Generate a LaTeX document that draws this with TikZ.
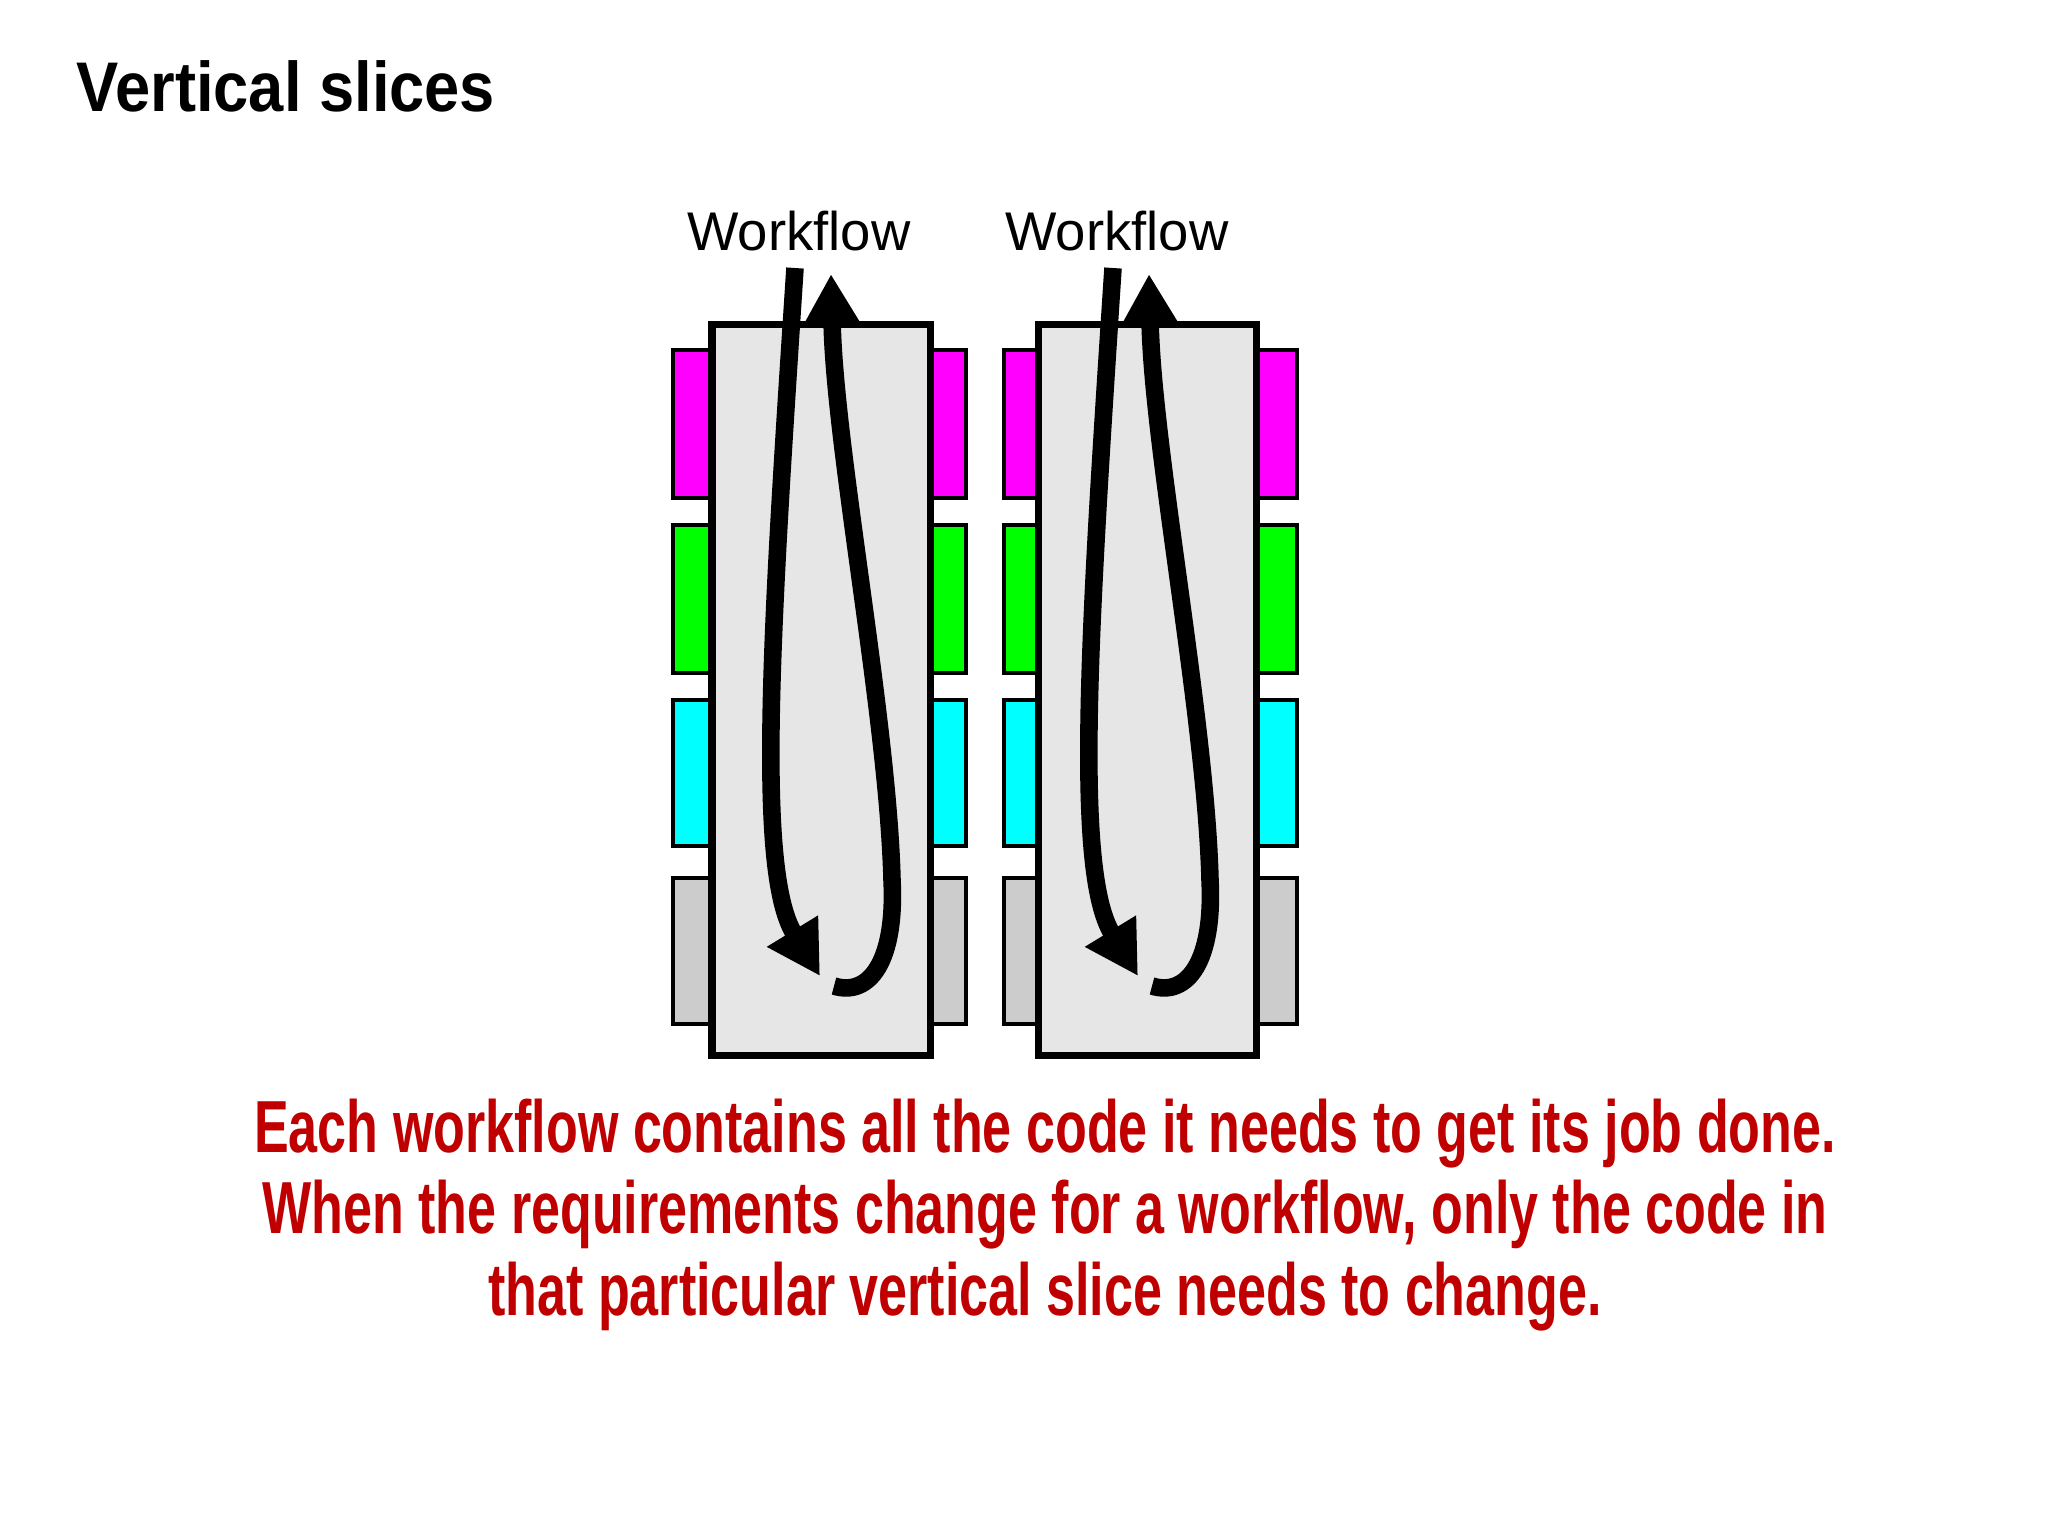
\documentclass[tikz,border=0pt]{standalone}
\usepackage{fontspec}
\setmainfont{Liberation Sans}
\usetikzlibrary{arrows.meta}
\definecolor{slicegray}{RGB}{230,230,230}
\definecolor{tabmagenta}{RGB}{255,0,255}
\definecolor{tabgreen}{RGB}{0,255,0}
\definecolor{tabcyan}{RGB}{0,255,255}
\definecolor{tabgray}{RGB}{204,204,204}
\definecolor{notered}{RGB}{192,0,0}

\begin{document}
\begin{tikzpicture}[x=0.1mm,y=-0.1mm,
  tab/.style={draw, line width=1pt},
  slice/.style={draw, line width=2pt, fill=slicegray},
  flow/.style={line width=5pt, -{Triangle[width=16pt,length=15pt]}}]
\fill[white] (0,0) rectangle (2048,1536);
\useasboundingbox (0,0) rectangle (2048,1536);

% Title
\node[anchor=base west, inner sep=0pt, font=\bfseries\fontsize{20}{24}\selectfont, xscale=0.9, transform shape] (title) at (76,111) {Vertical slices};

% Slices with their tabs
\foreach \x/\l/\r in {0/673/966, 326/1004/1297} {
  \foreach \ya/\yb/\col in {350/498/tabmagenta, 525/673/tabgreen, 700/846/tabcyan, 878/1024/tabgray} {
    \draw[tab, fill=\col] (\l,\ya) rectangle (\x+712,\yb);
    \draw[tab, fill=\col] (\x+930,\ya) rectangle (\r,\yb);
  }
  \draw[slice] (\x+712,324) rectangle (\x+930,1055);
}

% Workflow loops
\foreach \x/\n in {0/L, 318/R} {
  \coordinate (down\n) at (\x+795,268);
  \coordinate (downend\n) at (\x+820,976);
  \coordinate (up\n) at (\x+834,986);
  \coordinate (upend\n) at (\x+831,274);
  \draw[flow] (down\n) .. controls (\x+772,620) and (\x+755,870) .. (downend\n);
  \draw[flow] (up\n) .. controls (\x+870,997) and (\x+896,960) .. (\x+892,880)
    .. controls (\x+888,720) and (\x+835,450) .. (upend\n);
}

% Labels
\node[font=\fontsize{15.5}{18}\selectfont] (flowL) at (799,231) {Workflow};
\node[font=\fontsize{15.5}{18}\selectfont] (flowR) at (1117,231) {Workflow};

% Note
\node[text=notered, align=center, font=\bfseries\fontsize{21}{23.3}\selectfont, xscale=0.705, transform shape] (note) at (1045,1215)
  {Each workflow contains all the code it needs to get its job done.\\
   When the requirements change for a workflow, only the code in\\
   that particular vertical slice needs to change.};
\end{tikzpicture}
\end{document}
